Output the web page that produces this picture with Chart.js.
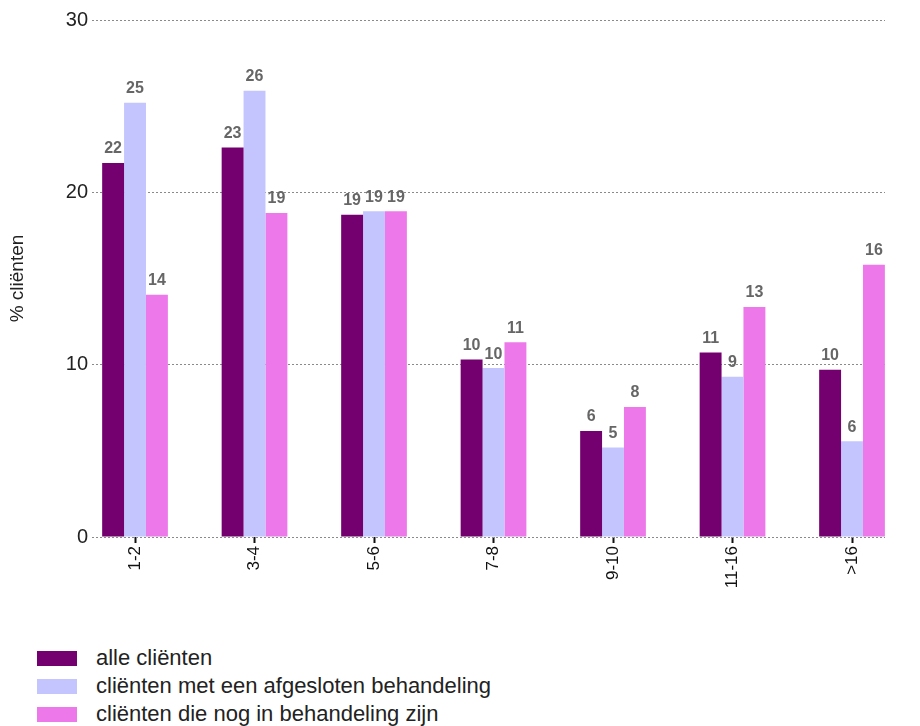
<!DOCTYPE html>
<html lang="nl">
<head>
    <meta charset="UTF-8">
    <title>Cliënten per behandelduur</title>
    <script src="https://unpkg.com/chart.js@4.4.1/dist/chart.umd.js"></script>
    <style>
        body {margin: 0; background: #fff; font-family: 'Liberation Sans', Arial, sans-serif;}
        #wrap {position: relative; width: 920px; height: 726px;}
        #graph {position: absolute; left: 0; top: 0; width: 920px; height: 600px;}
        #legend {position: absolute; left: 37px; top: 644px; margin: 0; padding: 0; list-style: none;}
        #legend li {height: 28px; line-height: 28px; font-size: 22px; color: #222; display: flex; align-items: center;}
        #legend span {display: inline-block; width: 40px; height: 15px; margin-right: 19px;}
    </style>
</head>
<body>
<div id="wrap">
    <div id="graph"><canvas id="barChart"></canvas></div>
    <ul id="legend"></ul>
</div>

<script>
// categories on the x-axis
const categories = ['1-2', '3-4', '5-6', '7-8', '9-10', '11-16', '>16'];

// percentages per group
const alleClienten = [21.7, 22.6, 18.7, 10.3, 6.15, 10.7, 9.7];
const afgesloten   = [25.2, 25.9, 18.9, 9.8, 5.2, 9.3, 5.55];
const nogInBehandeling = [14.05, 18.8, 18.9, 11.3, 7.55, 13.35, 15.8];

const seriesNames = [
    'alle cliënten',
    'cliënten met een afgesloten behandeling',
    'cliënten die nog in behandeling zijn'
];
const seriesColors = ['#74006f', '#c4c5ff', '#ec78e9'];

const yTicks = [0, 10, 20, 30];

// bars sit on a linear x scale so the plot can run a bit past the outer groups
const toPoints = (vals) => vals.map((v, i) => ({x: i, y: v}));

// value above each bar, rounded to whole percent
const barLabels = {
    id: 'barLabels',
    afterDatasetsDraw(chart) {
        const ctx = chart.ctx;
        ctx.save();
        ctx.font = 'bold 16px "Liberation Sans", Arial, sans-serif';
        ctx.fillStyle = '#666';
        ctx.textAlign = 'center';
        ctx.textBaseline = 'bottom';
        chart.data.datasets.forEach((ds, di) => {
            chart.getDatasetMeta(di).data.forEach((bar, i) => {
                ctx.fillText(Math.round(ds.data[i].y), bar.x, bar.y - 6);
            });
        });
        ctx.restore();
    }
};

const datasets = [alleClienten, afgesloten, nogInBehandeling].map((vals, i) => ({
    label: seriesNames[i],
    data: toPoints(vals),
    backgroundColor: seriesColors[i],
    borderWidth: 0,
    categoryPercentage: 0.55,
    barPercentage: 1.0
}));

const chart = new Chart(document.getElementById('barChart'), {
    type: 'bar',
    data: {datasets: datasets},
    plugins: [barLabels],
    options: {
        responsive: true,
        maintainAspectRatio: false,
        animation: false,
        layout: {padding: {top: 20, right: 35, left: 0, bottom: 0}},
        plugins: {
            legend: {display: false},
            tooltip: {enabled: false}
        },
        scales: {
            x: {
                type: 'linear',
                min: -0.36,
                max: 6.276,
                offset: false,
                afterBuildTicks: (scale) => {
                    scale.ticks = categories.map((c, i) => ({value: i}));
                },
                afterFit: (scale) => { scale.height = 63; },
                ticks: {
                    autoSkip: false,
                    minRotation: 90,
                    maxRotation: 90,
                    padding: 3,
                    color: '#111',
                    font: {family: 'Liberation Sans', size: 17},
                    callback: (v) => categories[v]
                },
                grid: {
                    offset: false,
                    drawOnChartArea: false,
                    drawTicks: true,
                    tickLength: 6,
                    tickWidth: 2,
                    tickColor: '#111'
                },
                border: {display: false}
            },
            y: {
                min: 0,
                max: 30,
                afterBuildTicks: (scale) => {
                    scale.ticks = yTicks.map(v => ({value: v}));
                },
                afterFit: (scale) => { scale.width = 92; },
                title: {
                    display: true,
                    text: '% cliënten',
                    color: '#222',
                    font: {family: 'Liberation Sans', size: 19},
                    padding: {top: 6, bottom: 0}
                },
                ticks: {
                    padding: 4,
                    color: '#222',
                    font: {family: 'Liberation Sans', size: 20}
                },
                grid: {
                    color: '#8a8a8a',
                    lineWidth: 1,
                    drawTicks: false
                },
                border: {display: false, dash: [2, 2]}
            }
        }
    }
});

// HTML legend, one series per row
const legend = document.getElementById('legend');
chart.data.datasets.forEach((ds) => {
    const li = document.createElement('li');
    const box = document.createElement('span');
    box.style.background = ds.backgroundColor;
    li.appendChild(box);
    li.appendChild(document.createTextNode(ds.label));
    legend.appendChild(li);
});
</script>
</body>
</html>
